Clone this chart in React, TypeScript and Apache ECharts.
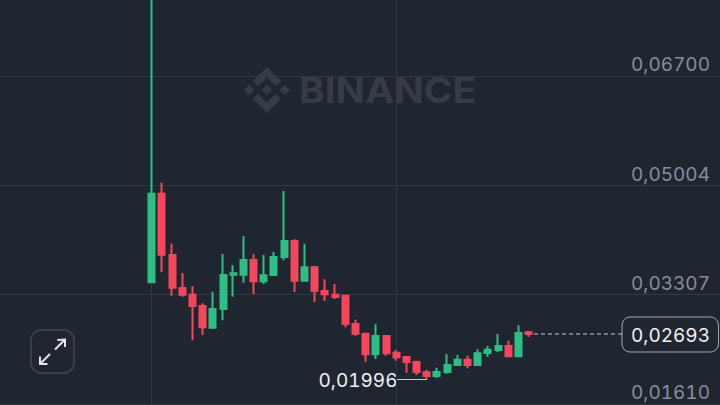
import React, { useEffect, useRef } from "react";
import * as echarts from "echarts";

const opens = [0.03496,0.04872,0.0392,0.03408,0.03304,0.03128,0.02791,0.03082,0.03614,0.03614,0.03842,0.03512,0.0361,0.03889,0.04138,0.03521,0.03729,0.03361,0.03304,0.03288,0.02849,0.02698,0.02378,0.02662,0.02403,0.02336,0.02259,0.02099,0.02041,0.02103,0.02212,0.02294,0.02212,0.02398,0.02445,0.02507,0.02347,0.0272];
const closes = [0.04872,0.03925,0.03412,0.03304,0.03128,0.02797,0.03082,0.0361,0.03636,0.03842,0.03512,0.03605,0.03889,0.04138,0.03521,0.03729,0.03366,0.0331,0.03268,0.02849,0.02698,0.02378,0.02662,0.02394,0.02332,0.02259,0.02103,0.02041,0.02103,0.02212,0.02294,0.02212,0.02394,0.0245,0.02507,0.02347,0.02709,0.02693];
const lows = [0.03496,0.03651,0.03288,0.03273,0.02595,0.02678,0.02771,0.02906,0.03273,0.0349,0.03314,0.0347,0.0361,0.03838,0.03346,0.03521,0.0319,0.03206,0.03237,0.02797,0.02667,0.02263,0.02305,0.02356,0.02279,0.02092,0.02057,0.01996,0.0201,0.02077,0.02196,0.02161,0.02201,0.02336,0.02409,0.02341,0.02347,0.02647];
const highs = [0.08,0.05043,0.04096,0.03641,0.03439,0.0317,0.0335,0.03936,0.0376,0.04215,0.03931,0.0392,0.03967,0.04914,0.04164,0.04096,0.03749,0.03543,0.0347,0.03299,0.02915,0.02714,0.02844,0.02667,0.02445,0.02347,0.02279,0.02139,0.0217,0.02383,0.02367,0.02356,0.02456,0.02507,0.02693,0.02589,0.02828,0.0274];
const yTicks = [0.0161, 0.03307, 0.05004, 0.067];
const lowLabel = "0,01996";
const lastLabel = "0,02693";
const watermark = "BINANCE";
const leadBlanks = 15;
const trailBlanks = 19;

const logoPath = "M38.73 53.2l24.59-24.58 24.6 24.6 14.3-14.31L63.32 0 24.43 38.9zM0 63.31l14.3-14.31 14.31 14.31-14.31 14.3zM38.73 73.41l24.59 24.59 24.6-24.6 14.31 14.29-38.9 38.91-38.91-38.88zM98 63.31l14.3-14.31 14.31 14.3-14.31 14.32zM77.83 63.3L63.32 48.78 52.59 59.51l-1.24 1.23-2.54 2.54 14.51 14.5 14.51-14.47z";
echarts.graphic.registerShape("logo", echarts.graphic.extendPath(logoPath as any, {} as any) as any);

const BG = "#1f2630";
const GRIDC = "#323842";
const UP = "#2ebd85";
const DOWN = "#f6465d";
const FONT = "Inter";
const BLEED = 20;

export default function App() {
  const ref = useRef<HTMLDivElement>(null);
  useEffect(() => {
    const chart = echarts.init(ref.current!, undefined, { renderer: "svg" });
    const candles = opens.map((o, i) => [o, closes[i], lows[i], highs[i]]);
    const seriesData: any[] = [
      ...Array(leadBlanks).fill("-"),
      ...candles,
      ...Array(trailBlanks).fill("-"),
    ];
    const cats = seriesData.map((_, i) => String(i));
    const vLines = new Set([leadBlanks, leadBlanks + 24]);
    const strokeC = "#e4e6e9";
    chart.setOption({
      animation: false,
      backgroundColor: BG,
      grid: { left: 13.75, right: 12.6, top: 0, bottom: 0 },
      xAxis: {
        type: "category",
        data: cats,
        boundaryGap: true,
        axisLine: { show: false },
        axisTick: { show: false },
        axisLabel: { show: false },
        splitLine: {
          show: true,
          alignWithLabel: true,
          interval: (i: number) => vLines.has(i),
          lineStyle: { color: GRIDC, width: 1 },
        },
      },
      yAxis: {
        type: "value",
        position: "right",
        min: 0.01591,
        max: 0.0788,
        axisLine: { show: false },
        axisTick: { show: false, customValues: yTicks },
        axisLabel: {
          inside: true,
          customValues: yTicks,
          margin: 17.4,
          color: "#848e9c",
          fontFamily: FONT,
          fontSize: 19,
          verticalAlign: "bottom",
          lineHeight: 22,
          formatter: (v: number) => v.toFixed(5).replace(".", ","),
        },
        splitLine: { show: true, lineStyle: { color: GRIDC, width: 1 } },
      },
      series: [
        {
          type: "candlestick",
          data: seriesData,
          barWidth: 6.5,
          itemStyle: { color: UP, color0: DOWN, borderColor: UP, borderColor0: DOWN, borderWidth: 2 },
        },
      ],
      graphic: [
        {
          type: "group",
          x: BLEED,
          y: 0,
          z: 5,
          children: [
            { type: "logo", x: 244, y: 67, scaleX: 0.3633, scaleY: 0.3633, style: { fill: "#363c47" } },
            { type: "text", x: 299, y: 90, scaleX: 1.11, style: { text: watermark, fill: "#363c47", fontFamily: FONT, fontWeight: 700, fontSize: 35, verticalAlign: "middle" } },
            { type: "line", shape: { x1: 397, y1: 379.5, x2: 427, y2: 379.5 }, style: { stroke: "#c9ccd1", lineWidth: 1 } },
            { type: "text", x: 397.5, y: 380, style: { text: lowLabel, fill: "#f0f1f3", fontFamily: FONT, fontSize: 19, align: "right", verticalAlign: "middle" } },
            { type: "line", shape: { x1: 534, y1: 334, x2: 622, y2: 334 }, style: { stroke: "#c9ccd1", lineWidth: 1, lineDash: [4, 3] } },
            { type: "rect", shape: { x: 622, y: 317, width: 96.5, height: 35, r: 8 }, style: { fill: BG, stroke: "#a3a8b0", lineWidth: 1 } },
            { type: "text", x: 670.5, y: 335, style: { text: lastLabel, fill: "#f0f1f3", fontFamily: FONT, fontSize: 19, align: "center", verticalAlign: "middle" } },
            { type: "rect", shape: { x: 31, y: 330, width: 43, height: 43, r: 10 }, style: { fill: BG, stroke: "#383f4a", lineWidth: 2 } },
            { type: "polyline", shape: { points: [[57.3, 340], [65, 339.5], [65, 347]] }, style: { fill: "none", stroke: strokeC, lineWidth: 2 } },
            { type: "line", shape: { x1: 65, y1: 339.5, x2: 55, y2: 349.5 }, style: { stroke: strokeC, lineWidth: 2 } },
            { type: "polyline", shape: { points: [[40, 356.5], [40, 364], [47.5, 364]] }, style: { fill: "none", stroke: strokeC, lineWidth: 2 } },
            { type: "line", shape: { x1: 40, y1: 364, x2: 50, y2: 354 }, style: { stroke: strokeC, lineWidth: 2 } },
          ],
        },
      ],
    });
    return () => chart.dispose();
  }, []);
  return (
    <div style={{ position: "fixed", left: 0, top: 0, width: 720, height: 405, overflow: "hidden", fontVariantNumeric: "tabular-nums" }}>
      <div ref={ref} style={{ position: "absolute", left: -BLEED, top: 0, width: 720 + 2 * BLEED, height: 405 }} />
    </div>
  );
}
